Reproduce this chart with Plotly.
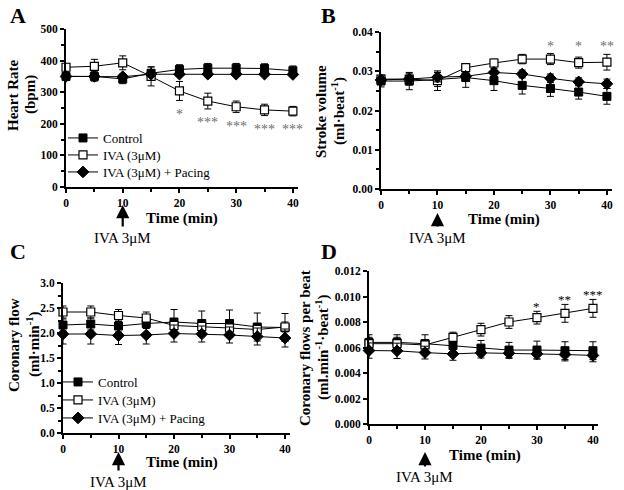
import plotly.graph_objects as go

# ---------------- data ----------------
time_min = [0, 5, 10, 15, 20, 25, 30, 35, 40]
series_names = ["Control", "IVA (3μM)", "IVA (3μM) + Pacing"]

# A: Heart rate (bpm)
hr_control = [350, 350, 342, 360, 372, 376, 376, 375, 368]
hr_control_err = [12, 15, 15, 20, 15, 15, 15, 15, 15]
hr_iva = [379, 382, 393, 350, 304, 272, 254, 244, 240]
hr_iva_err = [12, 22, 22, 30, 30, 25, 18, 18, 15]
hr_pacing = [350, 350, 349, 357, 357, 357, 357, 357, 356]
hr_pacing_err = [6, 6, 6, 6, 6, 6, 6, 6, 6]
hr_stars = ["", "", "", "", "*", "***", "***", "***", "***"]

# B: Stroke volume (ml/beat)
sv_control = [0.0275, 0.0275, 0.0279, 0.0284, 0.0276, 0.0264, 0.0256, 0.0247, 0.0236]
sv_control_err = [0.0015, 0.0022, 0.0018, 0.0025, 0.0025, 0.0022, 0.0020, 0.0018, 0.0020]
sv_iva = [0.0280, 0.0280, 0.0276, 0.0309, 0.0321, 0.0331, 0.0331, 0.0322, 0.0323]
sv_iva_err = [0.0010, 0.0015, 0.0025, 0.0010, 0.0010, 0.0012, 0.0014, 0.0014, 0.0020]
sv_pacing = [0.0278, 0.0280, 0.0285, 0.0287, 0.0297, 0.0293, 0.0282, 0.0273, 0.0268]
sv_pacing_err = [0.0010, 0.0010, 0.0012, 0.0010, 0.0010, 0.0010, 0.0011, 0.0010, 0.0012]
sv_stars = ["", "", "", "", "", "", "*", "*", "**"]

# C: Coronary flow (ml/min)
cf_control = [2.16, 2.18, 2.14, 2.19, 2.22, 2.19, 2.19, 2.12, 2.11]
cf_control_err = [0.12, 0.12, 0.12, 0.10, 0.25, 0.25, 0.27, 0.28, 0.28]
cf_iva = [2.42, 2.42, 2.35, 2.30, 2.15, 2.13, 2.10, 2.07, 2.12]
cf_iva_err = [0.12, 0.12, 0.12, 0.12, 0.10, 0.10, 0.10, 0.10, 0.10]
cf_pacing = [1.98, 1.98, 1.95, 1.96, 1.99, 1.98, 1.96, 1.93, 1.90]
cf_pacing_err = [0.20, 0.20, 0.18, 0.18, 0.17, 0.16, 0.16, 0.17, 0.18]

# D: Coronary flow per beat (ml/min/beat)
cfb_control = [0.0064, 0.0064, 0.0063, 0.00615, 0.00595, 0.0058, 0.0058, 0.00575, 0.00575]
cfb_control_err = [0.0006, 0.0006, 0.0007, 0.0005, 0.0006, 0.0006, 0.0007, 0.0007, 0.0007]
cfb_iva = [0.0063, 0.0063, 0.0062, 0.0068, 0.0074, 0.0080, 0.00834, 0.00868, 0.00907]
cfb_iva_err = [0.0005, 0.0005, 0.0004, 0.0004, 0.0005, 0.0005, 0.0005, 0.0007, 0.0007]
cfb_pacing = [0.00576, 0.00574, 0.0056, 0.0055, 0.00558, 0.00555, 0.0055, 0.00545, 0.00538]
cfb_pacing_err = [0.0006, 0.0006, 0.0005, 0.0005, 0.0004, 0.0004, 0.0004, 0.0005, 0.0005]
cfb_stars = ["", "", "", "", "", "", "*", "**", "***"]

# ---------------- styling ----------------
W, H = 624, 490
SERIF = "Liberation Serif, Times New Roman, serif"

def px_x(p):
    return p / W

def px_y(p):
    return 1 - p / H

panels = {
    "A": dict(x=(66, 298), y=(29, 187)),
    "B": dict(x=(381, 612), y=(32, 189)),
    "C": dict(x=(63, 290), y=(283, 433)),
    "D": dict(x=(369, 598), y=(271, 424)),
}

marker_styles = [
    dict(symbol="square", size=8, color="black", line=dict(color="black", width=1)),
    dict(symbol="square", size=8, color="white", line=dict(color="black", width=1.2)),
    dict(symbol="diamond", size=9, color="black", line=dict(color="black", width=1)),
]

fig = go.Figure()

def add_series(xa, ya, vals, errs, legends=None):
    for i, (v, e) in enumerate(zip(vals, errs)):
        fig.add_trace(go.Scatter(
            x=time_min, y=v, name=series_names[i],
            mode="lines+markers",
            line=dict(color="black", width=1),
            marker=marker_styles[i],
            error_y=dict(type="data", array=e, color="black", thickness=1, width=3.5),
            xaxis=xa, yaxis=ya, cliponaxis=False,
            showlegend=legends is not None,
            legend=legends[i] if legends else "legend",
        ))

add_series("x", "y", [hr_control, hr_iva, hr_pacing],
           [hr_control_err, hr_iva_err, hr_pacing_err],
           legends=["legend", "legend2", "legend3"])
add_series("x2", "y2", [sv_control, sv_iva, sv_pacing], [sv_control_err, sv_iva_err, sv_pacing_err])
add_series("x3", "y3", [cf_control, cf_iva, cf_pacing],
           [cf_control_err, cf_iva_err, cf_pacing_err],
           legends=["legend4", "legend5", "legend6"])
add_series("x4", "y4", [cfb_control, cfb_iva, cfb_pacing], [cfb_control_err, cfb_iva_err, cfb_pacing_err])

def axis_common():
    return dict(
        showline=True, linecolor="black", linewidth=2, mirror=False,
        ticks="outside", tickcolor="black", tickwidth=2, ticklen=4,
        showgrid=False, zeroline=False, automargin=False,
        tickfont=dict(family=SERIF, size=11.5, color="black", weight="bold"),
    )

xkeys = ["xaxis", "xaxis2", "xaxis3", "xaxis4"]
ykeys = ["yaxis", "yaxis2", "yaxis3", "yaxis4"]
yranges = [(0, 500), (0, 0.04), (0, 3.0), (0, 0.012)]
ydticks = [100, 0.01, 0.5, 0.002]
yminor = [50, 0.005, 0.25, None]
yfmt = ["d", ".2f", ".1f", ".3f"]
anchors = ["y", "y2", "y3", "y4"]
xanchors = ["x", "x2", "x3", "x4"]

layout = dict(
    width=W, height=H, autosize=False,
    margin=dict(l=0, r=0, t=0, b=0, pad=0, autoexpand=False),
    paper_bgcolor="white", plot_bgcolor="white",
    font=dict(family=SERIF, color="black"),
)
for i, key in enumerate("ABCD"):
    p = panels[key]
    xa = axis_common()
    xa.update(domain=[px_x(p["x"][0]), px_x(p["x"][1])], range=[0, 40.9],
              tickvals=[0, 10, 20, 30, 40], anchor=anchors[i], ticklabelstandoff=0,
              minor=dict(tickvals=[5, 15, 25, 35], ticks="outside", ticklen=3,
                         tickwidth=1.5, tickcolor="black"))
    ya = axis_common()
    ya.update(domain=[px_y(p["y"][1]), px_y(p["y"][0])], range=list(yranges[i]),
              dtick=ydticks[i], tick0=0, tickformat=yfmt[i], anchor=xanchors[i])
    if yminor[i]:
        ya.update(minor=dict(dtick=yminor[i], ticks="outside", ticklen=3,
                             tickwidth=1.5, tickcolor="black"))
    layout[xkeys[i]] = xa
    layout[ykeys[i]] = ya

legend_font = dict(family=SERIF, size=13, color="black")
# one legend per entry so rows can sit at the reference spacing
legend_rows = {
    "legend": (63, 138), "legend2": (63, 155), "legend3": (63, 172),
    "legend4": (58, 382), "legend5": (58, 400), "legend6": (58, 418),
}
for lk, (lx, ly) in legend_rows.items():
    layout[lk] = dict(x=px_x(lx), y=px_y(ly), xanchor="left", yanchor="middle",
                      bgcolor="rgba(0,0,0,0)", font=legend_font, itemwidth=30,
                      borderwidth=0)
fig.update_layout(**layout)

ann = []
# panel letters
for key, (lx, ly) in {"A": (8, 16), "B": (319, 16), "C": (8, 252), "D": (319, 252)}.items():
    ann.append(dict(text=key, x=px_x(lx), y=px_y(ly), xref="paper", yref="paper",
                    xanchor="left", yanchor="middle", showarrow=False,
                    font=dict(family=SERIF, size=22, color="black", weight="bold")))

title_font = dict(family=SERIF, size=15, color="black", weight="bold")
# x titles
for (cx, cy) in [(182, 218), (504, 219), (182, 462), (485, 455)]:
    ann.append(dict(text="Time (min)", x=px_x(cx), y=px_y(cy), xref="paper", yref="paper",
                    xanchor="center", yanchor="middle", showarrow=False, font=title_font))
# y titles (two lines each)
ytitles = [
    ("Heart Rate", "(bpm)", 13, 30, 95),
    ("Stroke volume", "(ml·beat<sup>-1</sup>)", 321, 338, 111),
    ("Coronary flow", "(ml·min<sup>-1</sup>)", 14, 33, 345),
    ("Coronary flows per beat", "(ml.min<sup>-1</sup>·beat<sup>-1</sup>)", 305, 322, 348),
]
for l1, l2, x1, x2, cy in ytitles:
    for txt, xx in [(l1, x1), (l2, x2)]:
        ann.append(dict(text=txt, x=px_x(xx), y=px_y(cy), xref="paper", yref="paper",
                        xanchor="center", yanchor="middle", textangle=-90,
                        showarrow=False, font=title_font))

# IVA arrows + labels
arrow_specs = [("x", "y", 205, 228, 238), ("x2", "y2", 213, 228, 238),
               ("x3", "y3", 452, 472, 482), ("x4", "y4", 452, 468, 477)]
for xa, ya, tip, tail, ty in arrow_specs:
    ann.append(dict(text="", x=10, y=px_y(tip), xref=xa, yref="paper",
                    ax=0, ay=tail - tip, axref="pixel", ayref="pixel",
                    showarrow=True, arrowhead=2, arrowsize=1.2, arrowwidth=2.2,
                    arrowcolor="black"))
    ann.append(dict(text="IVA 3μM", x=10, y=px_y(ty), xref=xa, yref="paper",
                    xanchor="center", yanchor="middle", showarrow=False,
                    font=dict(family=SERIF, size=15, color="black")))

# significance stars
star_grey = dict(family=SERIF, size=14, color="#6e6e6e")
for t, s, v, e in zip(time_min, hr_stars, hr_iva, hr_iva_err):
    if s:
        ann.append(dict(text=s, x=t, y=v - e - 43, xref="x", yref="y", showarrow=False,
                        xanchor="center", yanchor="middle", font=star_grey))
for t, s in zip(time_min, sv_stars):
    if s:
        ann.append(dict(text=s, x=t, y=0.0362, xref="x2", yref="y2", showarrow=False,
                        xanchor="center", yanchor="middle", font=star_grey))
for t, s, v, e in zip(time_min, cfb_stars, cfb_iva, cfb_iva_err):
    if s:
        ann.append(dict(text=s, x=t, y=v + e + 0.0004, xref="x4", yref="y4", showarrow=False,
                        xanchor="center", yanchor="middle",
                        font=dict(family=SERIF, size=13, color="black")))

fig.update_layout(annotations=ann)
fig.write_html("out.html", config={"displayModeBar": False},
               post_script="document.body.style.margin='0px';")
